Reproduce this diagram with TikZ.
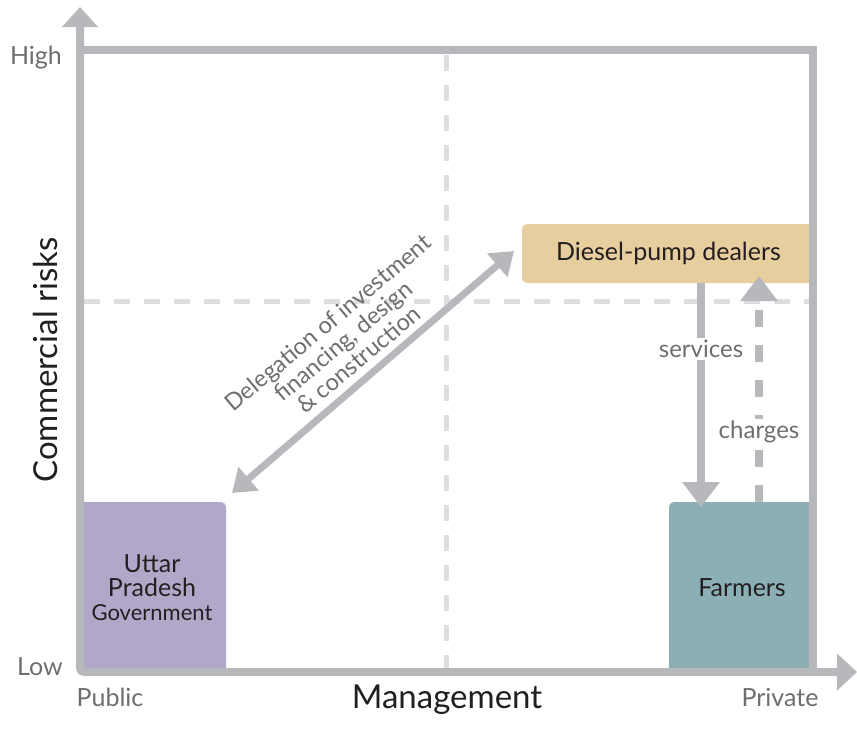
\documentclass[tikz,border=0pt]{standalone}
\usepackage{fontspec}
\setmainfont{Lato}
\usetikzlibrary{arrows.meta}
\definecolor{axisgray}{HTML}{B7B8BB}
\definecolor{gridgray}{HTML}{DEDEDF}
\definecolor{labelgray}{HTML}{6D6E71}
\definecolor{inkdark}{HTML}{231F20}
\definecolor{dealercol}{HTML}{E7CE9E}
\definecolor{farmercol}{HTML}{8BAFB5}
\definecolor{govcol}{HTML}{B3A7C9}
\begin{document}
\begin{tikzpicture}[x=1pt,y=-1pt,
  axis/.style={draw=axisgray,line width=8pt},
  grid/.style={draw=gridgray,line width=5pt,dash pattern=on 16pt off 14pt},
  flow/.style={draw=axisgray,line width=8pt,-{Triangle[width=36pt,length=25pt]}},
  actor/.style={inner sep=0pt,align=center,text=inkdark,font=\fontsize{25}{24}\selectfont},
  tag/.style={text=labelgray,font=\fontsize{25}{28}\selectfont},
  title/.style={text=inkdark,font=\fontsize{33}{36}\selectfont}]
\useasboundingbox (0,0) rectangle (857,729);

% Quadrant dividers
\draw[grid] (446,55) -- (446,668);
\draw[grid] (84,301) -- (809,301);

% Actors
\node[actor,fill=dealercol,rounded corners=5pt,minimum width=293pt,minimum height=59pt] (dealers) at (668.5,253.5) {Diesel-pump dealers};
\node[actor,fill=farmercol,rounded corners=5pt,minimum width=146pt,minimum height=172pt] (farmers) at (742,588) {Farmers};
\node[actor,fill=govcol,rounded corners=5pt,minimum width=148pt,minimum height=172pt] (upgov) at (152,588) {Uttar\\Pradesh\\{\fontsize{22}{24}\selectfont Government}};

% Frame and axes
\draw[axis] (80,50) -| (813,672);
\coordinate (yTip) at (80,7);
\coordinate (xTip) at (857,672);
\draw[axis,rounded corners=4pt,{Triangle[width=35pt,length=20pt]}-{Triangle[width=36pt,length=20pt]}] (yTip) |- (xTip);

% Axis labels
\node[tag] (high) at (36,58) {High};
\node[tag] (low) at (40,667) {Low};
\node[tag] (public) at (110,697) {Public};
\node[tag] (private) at (780,697) {Private};
\node[title,rotate=90] (risk) at (45,360) {Commercial risks};
\node[title] (mgmt) at (447,700) {Management};

% Flows
\coordinate (delegA) at (232,493);
\coordinate (delegB) at (514,251);
\draw[axisgray,line width=7pt,{Triangle[width=30pt,length=22pt]}-{Triangle[width=30pt,length=22pt]}] (delegA) -- (delegB);
\node[tag,rotate=40,align=center,font=\fontsize{23.5}{24}\selectfont] (deleg) at (343,341) {Delegation of investment\\financing, design\\\& construction};

\coordinate (svcA) at (701,283);
\coordinate (svcB) at (701,507);
\draw[flow] (svcA) -- (svcB);
\node[tag,fill=white,inner sep=2pt,font=\fontsize{24}{26}\selectfont] (services) at (701,349) {services};

\coordinate (chgA) at (759,502);
\coordinate (chgB) at (759,276);
\draw[flow,dash pattern=on 17pt off 18pt] (chgA) -- (chgB);
\node[tag,fill=white,inner sep=2pt,font=\fontsize{24}{26}\selectfont] (charges) at (759,432) {charges};

\end{tikzpicture}
\end{document}
